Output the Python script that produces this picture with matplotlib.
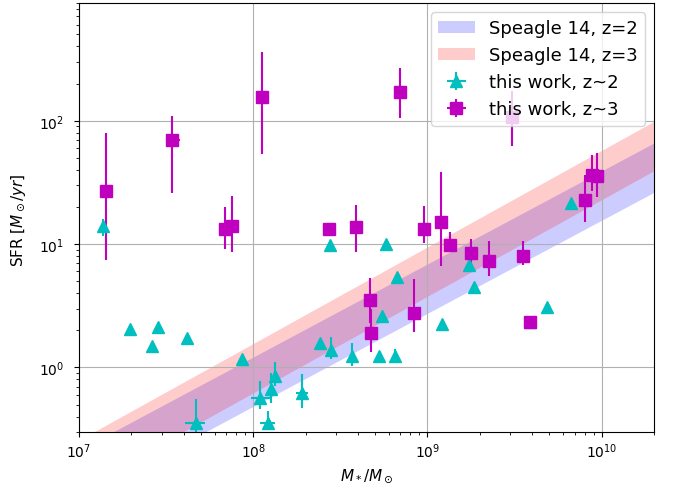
import numpy as np
import matplotlib
matplotlib.use("Agg")
import matplotlib.pyplot as plt

# Speagle+14 main-sequence bands (edges read at the two ends of the x range)
band_mass = [1e7, 2e10]
z2_low = [0.0853, 26.3]
z2_high = [0.214, 66.1]
z3_low = [0.1027, 39.4]
z3_high = [0.258, 98.9]

# this work, z~2
mass2 = [1.38e7, 1.95e7, 2.64e7, 2.85e7, 4.15e7, 4.69e7, 8.57e7, 1.10e8, 1.22e8,
         1.26e8, 1.33e8, 1.90e8, 2.42e8, 2.75e8, 2.80e8, 3.71e8, 5.29e8, 5.52e8,
         5.75e8, 6.56e8, 6.73e8, 1.21e9, 1.73e9, 1.85e9, 3.90e9, 4.84e9, 6.65e9]
mass2_low = [1.38e7, 1.95e7, 2.64e7, 2.85e7, 4.15e7, 4.07e7, 8.57e7, 9.66e7, 1.09e8,
             1.26e8, 1.33e8, 1.76e8, 2.42e8, 2.75e8, 2.80e8, 3.71e8, 5.29e8, 5.52e8,
             5.75e8, 6.56e8, 6.73e8, 1.21e9, 1.73e9, 1.85e9, 3.90e9, 4.84e9, 6.65e9]
mass2_high = [1.38e7, 1.95e7, 2.64e7, 2.85e7, 4.15e7, 5.29e7, 8.57e7, 1.25e8, 1.33e8,
              1.26e8, 1.33e8, 2.07e8, 2.42e8, 2.75e8, 2.80e8, 3.71e8, 5.29e8, 5.52e8,
              5.75e8, 6.56e8, 6.73e8, 1.21e9, 1.73e9, 1.85e9, 3.90e9, 4.84e9, 6.65e9]
sfr2 = [13.9, 2.07, 1.48, 2.12, 1.75, 0.352, 1.17, 0.561, 0.358,
        0.667, 0.855, 0.62, 1.57, 9.82, 1.39, 1.24, 1.24, 2.62,
        10.1, 1.24, 5.37, 2.24, 6.79, 4.51, 2.35, 3.07, 21.4]
sfr2_low = [11.6, 2.07, 1.48, 2.12, 1.75, 0.28, 1.17, 0.459, 0.31,
            0.52, 0.71, 0.473, 1.57, 9.82, 1.17, 1.03, 1.24, 2.62,
            10.1, 1.24, 5.37, 2.24, 6.79, 4.30, 2.15, 3.07, 21.4]
sfr2_high = [16.0, 2.07, 1.48, 2.12, 1.75, 0.553, 1.17, 0.778, 0.445,
             0.91, 1.10, 0.88, 1.57, 9.82, 1.78, 1.57, 1.24, 2.62,
             10.1, 1.40, 5.37, 2.24, 6.79, 4.51, 2.55, 3.07, 21.4]

# this work, z~3
mass3 = [1.42e7, 3.40e7, 6.88e7, 7.55e7, 1.12e8, 2.72e8, 3.88e8, 4.68e8, 4.73e8,
         6.95e8, 8.40e8, 9.57e8, 1.20e9, 1.34e9, 1.77e9, 2.26e9, 3.08e9, 3.52e9,
         3.90e9, 8.00e9, 8.85e9, 9.47e9]
mass3_low = [1.42e7, 3.18e7, 6.88e7, 7.55e7, 1.12e8, 2.72e8, 3.88e8, 4.68e8, 4.73e8,
             6.95e8, 8.40e8, 9.57e8, 1.20e9, 1.34e9, 1.77e9, 2.26e9, 3.08e9, 3.52e9,
             3.90e9, 8.00e9, 8.85e9, 9.47e9]
mass3_high = [1.42e7, 3.80e7, 6.88e7, 7.55e7, 1.12e8, 2.72e8, 3.88e8, 4.68e8, 4.73e8,
              6.95e8, 8.40e8, 9.57e8, 1.20e9, 1.34e9, 1.77e9, 2.26e9, 3.08e9, 3.52e9,
              3.90e9, 8.00e9, 8.85e9, 9.47e9]
sfr3 = [27.0, 69.3, 13.3, 13.9, 156.6, 13.2, 13.8, 3.52, 1.90,
        171.9, 2.75, 13.2, 15.0, 9.75, 8.41, 7.24, 106.6, 8.0,
        2.35, 22.8, 36.5, 35.8]
sfr3_low = [7.5, 25.9, 9.2, 8.57, 53.7, 12.5, 8.67, 2.3, 1.34,
            105.0, 1.94, 10.3, 6.67, 8.57, 7.0, 5.53, 62.7, 6.76,
            2.2, 15.0, 27.0, 23.9]
sfr3_high = [80.0, 108.6, 19.9, 24.7, 359.0, 14.5, 20.7, 5.27, 3.0,
             267.0, 5.2, 20.5, 38.5, 12.6, 11.0, 10.5, 175.0, 10.6,
             2.5, 36.3, 52.7, 54.7]


def errs(center, low, high):
    c = np.asarray(center)
    return [c - np.asarray(low), np.asarray(high) - c]


fig = plt.figure(figsize=(6.73, 4.89), dpi=100)
ax = fig.add_axes([79 / 673, 1 - 433 / 489, (654 - 79) / 673, (433 - 4) / 489])

ax.fill_between(band_mass, z2_low, z2_high, color='b', alpha=0.2, lw=0,
                label='Speagle 14, z=2')
ax.fill_between(band_mass, z3_low, z3_high, color='r', alpha=0.2, lw=0,
                label='Speagle 14, z=3')

ax.errorbar(mass2, sfr2, yerr=errs(sfr2, sfr2_low, sfr2_high),
            xerr=errs(mass2, mass2_low, mass2_high),
            fmt='^', color='c', ms=8, label='this work, z~2')
ax.errorbar(mass3, sfr3, yerr=errs(sfr3, sfr3_low, sfr3_high),
            xerr=errs(mass3, mass3_low, mass3_high),
            fmt='s', color='m', ms=8, label='this work, z~3')

ax.set_xscale('log')
ax.set_yscale('log')
ax.set_xlim(1e7, 2e10)
ax.set_ylim(0.3, 900)
ax.grid(True)
ax.tick_params(axis='y', which='major', pad=7)
ax.set_xlabel(r'$M_*/M_\odot$', fontsize=11)
ax.set_ylabel(r'SFR [$M_\odot/yr$]', fontsize=11)
ax.yaxis.set_label_coords((28 - 79) / 575, 0.497)
ax.legend(loc='upper right', fontsize=13)

fig.savefig('out.png', dpi=100)
